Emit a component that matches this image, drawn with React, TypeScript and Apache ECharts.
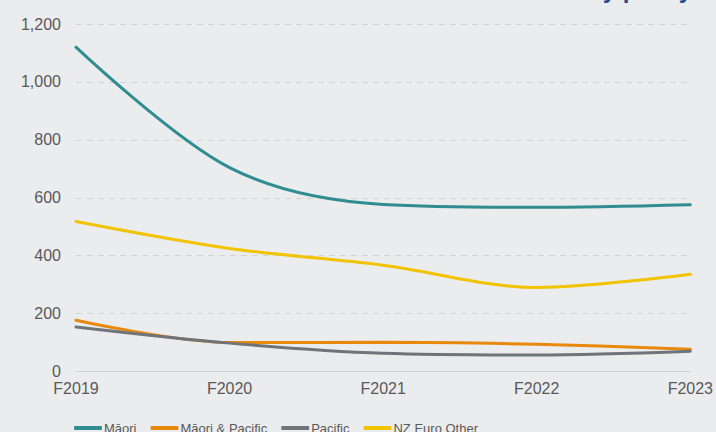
import React, { useEffect, useRef } from "react";
import * as echarts from "echarts";

const years = ["F2019", "F2020", "F2021", "F2022", "F2023"];
const maori = [1120, 704, 577, 567, 576];
const maoriPacific = [177, 100, 101, 94, 77];
const pacific = [154, 98, 63, 57, 70];
const nzEuroOther = [518, 425, 367, 290, 336];

const seriesNames = ["Māori", "Māori & Pacific", "Pacific", "NZ Euro Other"];
const seriesColors = ["#2f8c90", "#e8890c", "#6e7479", "#f2c300"];
const yTicks = [0, 200, 400, 600, 800, 1000, 1200];

export default function App() {
  const ref = useRef<HTMLDivElement>(null);

  useEffect(() => {
    if (!ref.current) return;
    const chart = echarts.init(ref.current, null, { renderer: "svg" });
    const data = [maori, maoriPacific, pacific, nzEuroOther];
    chart.setOption({
      animation: false,
      backgroundColor: "#ebecee",
      textStyle: { fontFamily: "Arial, 'Liberation Sans', sans-serif" },
      grid: { left: 76, right: 22, top: 24, bottom: 60.5, containLabel: false },
      graphic: [
        {
          // heading sits above the visible area; only its descenders show
          type: "text",
          right: 24,
          top: -23,
          style: {
            text: "Referrals by policy",
            font: "bold 24px Arial, 'Liberation Sans', sans-serif",
            fill: "#1f4f93",
          },
        },
      ],
      legend: {
        left: 74,
        top: 421.5,
        padding: 0,
        itemWidth: 28,
        itemHeight: 4,
        itemGap: 14,
        icon: "roundRect",
        textStyle: {
          fontSize: 13,
          color: "#595959",
          padding: [0, 0, 0, -3],
        },
        data: seriesNames,
      },
      xAxis: {
        type: "category",
        data: years,
        boundaryGap: false,
        axisLine: { lineStyle: { color: "#d0d0d0", width: 1 } },
        axisTick: { show: false },
        axisLabel: { color: "#595959", fontSize: 16, margin: 9 },
      },
      yAxis: {
        type: "value",
        min: yTicks[0],
        max: yTicks[yTicks.length - 1],
        interval: 200,
        axisLine: { show: false },
        axisTick: { show: false },
        axisLabel: {
          color: "#595959",
          fontSize: 16,
          margin: 15,
          formatter: (v: number) => v.toLocaleString("en-US"),
        },
        splitLine: { lineStyle: { color: "#d2d3d5", type: [6, 5], width: 1 } },
      },
      series: seriesNames.map((name, i) => ({
        name,
        type: "line",
        data: data[i],
        smooth: 0.33,
        symbol: "none",
        lineStyle: { color: seriesColors[i], width: 3, cap: "round" },
        itemStyle: { color: seriesColors[i] },
        z: i === 0 ? 4 : 2,
      })),
    });
    return () => chart.dispose();
  }, []);

  return (
    <div
      ref={ref}
      style={{ position: "fixed", left: 0, top: 0, width: 716, height: 432 }}
    />
  );
}
